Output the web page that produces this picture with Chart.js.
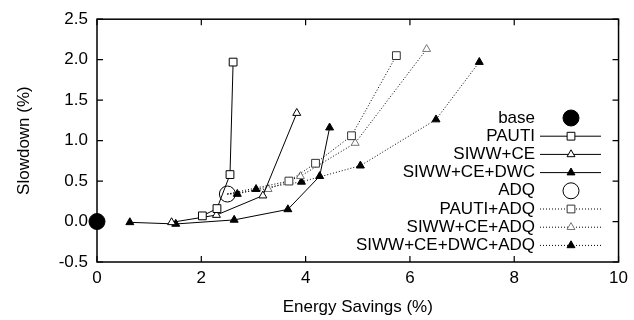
<!DOCTYPE html>
<html>
<head>
<meta charset="utf-8">
<script src="https://cdn.jsdelivr.net/npm/chart.js@4/dist/chart.umd.min.js"></script>
<style>
  html, body { margin: 0; padding: 0; background: #fff; }
  #wrap { width: 634px; height: 320px; }
</style>
</head>
<body>
<div id="wrap"><canvas id="c" width="634" height="320"></canvas></div>
<script>
// values (energy savings %, slowdown %)
const xTicks = [0, 2, 4, 6, 8, 10];
const yTicks = [-0.5, 0, 0.5, 1.0, 1.5, 2.0, 2.5];

const base = [[0, 0]];
const pauti = [[2.02, 0.07], [2.3, 0.16], [2.55, 0.58], [2.61, 1.97]];
const siwwCe = [[1.43, -0.01], [2.29, 0.08], [3.18, 0.32], [3.83, 1.34]];
const siwwCeDwc = [[0.63, -0.01], [1.51, -0.03], [2.63, 0.02], [3.66, 0.15], [4.27, 0.56], [4.46, 1.16]];
const adq = [[2.5, 0.34]];
const pautiAdq = [[2.5, 0.34], [3.68, 0.5], [4.19, 0.72], [4.88, 1.06], [5.74, 2.05]];
const siwwCeAdq = [[2.5, 0.34], [3.28, 0.4], [3.9, 0.56], [4.95, 0.97], [6.32, 2.13]];
const siwwCeDwcAdq = [[2.5, 0.34], [2.69, 0.34], [3.05, 0.4], [3.92, 0.49], [5.05, 0.69], [6.5, 1.26], [7.33, 1.97]];

const FONT = "'Liberation Sans', Arial, sans-serif";
const pts = (arr) => arr.map(([x, y]) => ({ x, y }));
const skipFirst = (r) => (ctx) => (ctx.dataIndex === 0 ? 0 : r);

function series(label, data, o) {
  return Object.assign({
    label,
    data: pts(data),
    showLine: true,
    borderColor: "#000",
    borderWidth: 1,
    pointBorderColor: "#000",
    pointBackgroundColor: "#fff",
    pointBorderWidth: 1,
    pointHoverRadius: 0,
    clip: false,
  }, o);
}

const datasets = [
  series("base", base, { showLine: false, pointStyle: "circle", pointRadius: 8, pointBackgroundColor: "#000" }),
  series("PAUTI", pauti, { pointStyle: "rect", pointRadius: 5.5 }),
  series("SIWW+CE", siwwCe, { pointStyle: "triangle", pointRadius: 4.6 }),
  series("SIWW+CE+DWC", siwwCeDwc, { pointStyle: "triangle", pointRadius: 4.6, pointBackgroundColor: "#000" }),
  series("ADQ", adq, { showLine: false, pointStyle: "circle", pointRadius: 8, pointBackgroundColor: "rgba(0,0,0,0)" }),
  series("PAUTI+ADQ", pautiAdq, { borderDash: [1, 2], pointStyle: "rect", pointRadius: skipFirst(5.5), pointBorderColor: "#333" }),
  series("SIWW+CE+ADQ", siwwCeAdq, { borderDash: [1, 2], pointStyle: "triangle", pointRadius: skipFirst(4.6), pointBorderColor: "#777" }),
  series("SIWW+CE+DWC+ADQ", siwwCeDwcAdq, { borderDash: [1, 2], pointStyle: "triangle", pointRadius: skipFirst(4.6), pointBackgroundColor: "#000" }),
];

// gnuplot-like frame with inward ticks and a right-aligned key
const frame = {
  id: "frame",
  afterDatasetsDraw(chart) {
    const { ctx, chartArea: a, scales } = chart;
    ctx.save();
    ctx.strokeStyle = "#000";
    ctx.lineWidth = 1.5;
    ctx.strokeRect(a.left, a.top, a.right - a.left, a.bottom - a.top);
    ctx.lineWidth = 1.2;
    ctx.beginPath();
    xTicks.forEach((v) => {
      const x = scales.x.getPixelForValue(v);
      ctx.moveTo(x, a.bottom); ctx.lineTo(x, a.bottom - 6);
      ctx.moveTo(x, a.top); ctx.lineTo(x, a.top + 6);
    });
    yTicks.forEach((v) => {
      const y = scales.y.getPixelForValue(v);
      ctx.moveTo(a.left, y); ctx.lineTo(a.left + 6, y);
      ctx.moveTo(a.right, y); ctx.lineTo(a.right - 6, y);
    });
    ctx.stroke();

    // key
    const textRight = 535, lineL = 540, lineR = 601, mx = 571;
    ctx.font = "17px " + FONT;
    ctx.textAlign = "right";
    ctx.textBaseline = "middle";
    chart.data.datasets.forEach((ds, i) => {
      const y = 118 + i * 18.2;
      ctx.fillStyle = "#000";
      ctx.fillText(ds.label, textRight, y);
      if (ds.showLine) {
        ctx.strokeStyle = "#000";
        ctx.lineWidth = 1;
        ctx.setLineDash(ds.borderDash || []);
        ctx.beginPath();
        ctx.moveTo(lineL, y); ctx.lineTo(lineR, y);
        ctx.stroke();
        ctx.setLineDash([]);
      }
      const r = typeof ds.pointRadius === "function" ? ds.pointRadius({ dataIndex: 1 }) : ds.pointRadius;
      ctx.fillStyle = ds.pointBackgroundColor;
      ctx.strokeStyle = ds.pointBorderColor;
      ctx.lineWidth = 1;
      Chart.helpers.drawPoint(ctx, { pointStyle: ds.pointStyle, radius: r, borderWidth: 1, rotation: 0 }, mx, y);
    });
    ctx.restore();
  },
};

new Chart(document.getElementById("c"), {
  type: "line",
  data: { datasets },
  options: {
    responsive: false,
    animation: false,
    events: [],
    layout: { padding: { top: 12, right: 12, left: 0, bottom: 0 } },
    plugins: { legend: { display: false }, tooltip: { enabled: false } },
    scales: {
      x: {
        type: "linear",
        min: 0,
        max: 10,
        afterBuildTicks: (s) => { s.ticks = xTicks.map((value) => ({ value })); },
        afterFit: (s) => { s.height = 58; },
        grid: { display: false, drawTicks: false },
        border: { display: false },
        ticks: { color: "#000", font: { family: FONT, size: 17 }, padding: 6 },
        title: { display: true, text: "Energy Savings (%)", color: "#000", font: { family: FONT, size: 17 }, padding: { top: 0, bottom: 2 } },
      },
      y: {
        type: "linear",
        min: -0.5,
        max: 2.5,
        afterBuildTicks: (s) => { s.ticks = yTicks.map((value) => ({ value })); },
        afterFit: (s) => { s.width = 97; },
        grid: { display: false, drawTicks: false },
        border: { display: false },
        ticks: { color: "#000", font: { family: FONT, size: 17 }, padding: 9, callback: (v) => Number(v).toFixed(1) },
        title: { display: true, text: "Slowdown (%)", color: "#000", font: { family: FONT, size: 17 }, padding: { top: 14, bottom: 0 } },
      },
    },
  },
  plugins: [frame],
});
</script>
</body>
</html>
